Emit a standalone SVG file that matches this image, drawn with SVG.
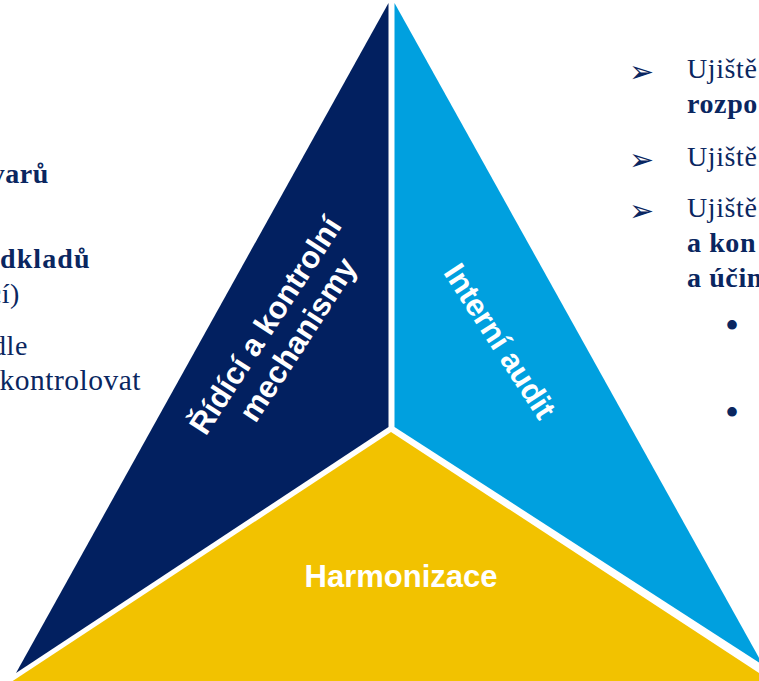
<svg xmlns="http://www.w3.org/2000/svg" width="759" height="681" viewBox="0 0 759 681">
<style>
.serif{font-family:"Liberation Serif","Times New Roman",serif;font-size:28px;letter-spacing:0.6px;fill:#0A2660}
.b{font-weight:bold}
.lbl{font-family:"Liberation Sans",Arial,sans-serif;font-weight:bold;font-size:31px;fill:#FFFFFF;text-anchor:middle}
.arw{font-family:"DejaVu Sans",sans-serif;font-size:30px;fill:#0A2660}
.dot{font-family:"Liberation Serif","Times New Roman",serif;font-size:40px;fill:#0A2660}
.k{font-family:"Liberation Serif","Times New Roman",serif;font-size:29.5px;letter-spacing:0.5px;fill:#0A2660}
</style>
<rect x="0" y="0" width="759" height="681" fill="#FFFFFF"/>
<g id="node-rizeni">
<polygon points="388.5,3 388.5,427 16,673" fill="#022060"/>
<g transform="translate(290,338) rotate(-57)">
<text class="lbl" x="-3" y="-17">Řídící a kontrolní</text>
<text class="lbl" x="3" y="18">mechanismy</text>
</g>
</g>
<g id="node-audit">
<polygon points="394.5,3 394.5,427 763,665" fill="#00A0DF"/>
<g transform="translate(491,347) rotate(57)">
<text class="lbl" x="0" y="0">Interní audit</text>
</g>
</g>
<g id="node-harmonizace">
<polygon points="391,432 -1,690 785,690" fill="#F2C200"/>
<text class="lbl" x="401" y="587">Harmonizace</text>
</g>
<g id="connectors"></g>
<g id="text-left">
<text class="serif b" x="49" y="183" text-anchor="end">varů</text>
<text class="serif b" x="0" y="268" style="letter-spacing:1.1px">dkladů</text>
<text class="serif" x="20" y="303" text-anchor="end">cí)</text>
<text class="serif" x="28" y="355" text-anchor="end">dle</text>
<text class="k" x="141" y="390" text-anchor="end">kontrolovat</text>
</g>
<g id="text-right">
<text class="arw" x="629" y="82">➢</text>
<text class="serif" x="687" y="78">Ujiště</text>
<text class="serif b" x="687" y="113">rozpo</text>
<text class="arw" x="629" y="170">➢</text>
<text class="serif" x="687" y="166">Ujiště</text>
<text class="arw" x="629" y="221">➢</text>
<text class="serif" x="687" y="217">Ujiště</text>
<text class="serif b" x="687" y="252">a kon</text>
<text class="serif b" x="687" y="287">a účin</text>
<text class="dot" x="725" y="339">•</text>
<text class="dot" x="725" y="426">•</text>
</g>
</svg>
